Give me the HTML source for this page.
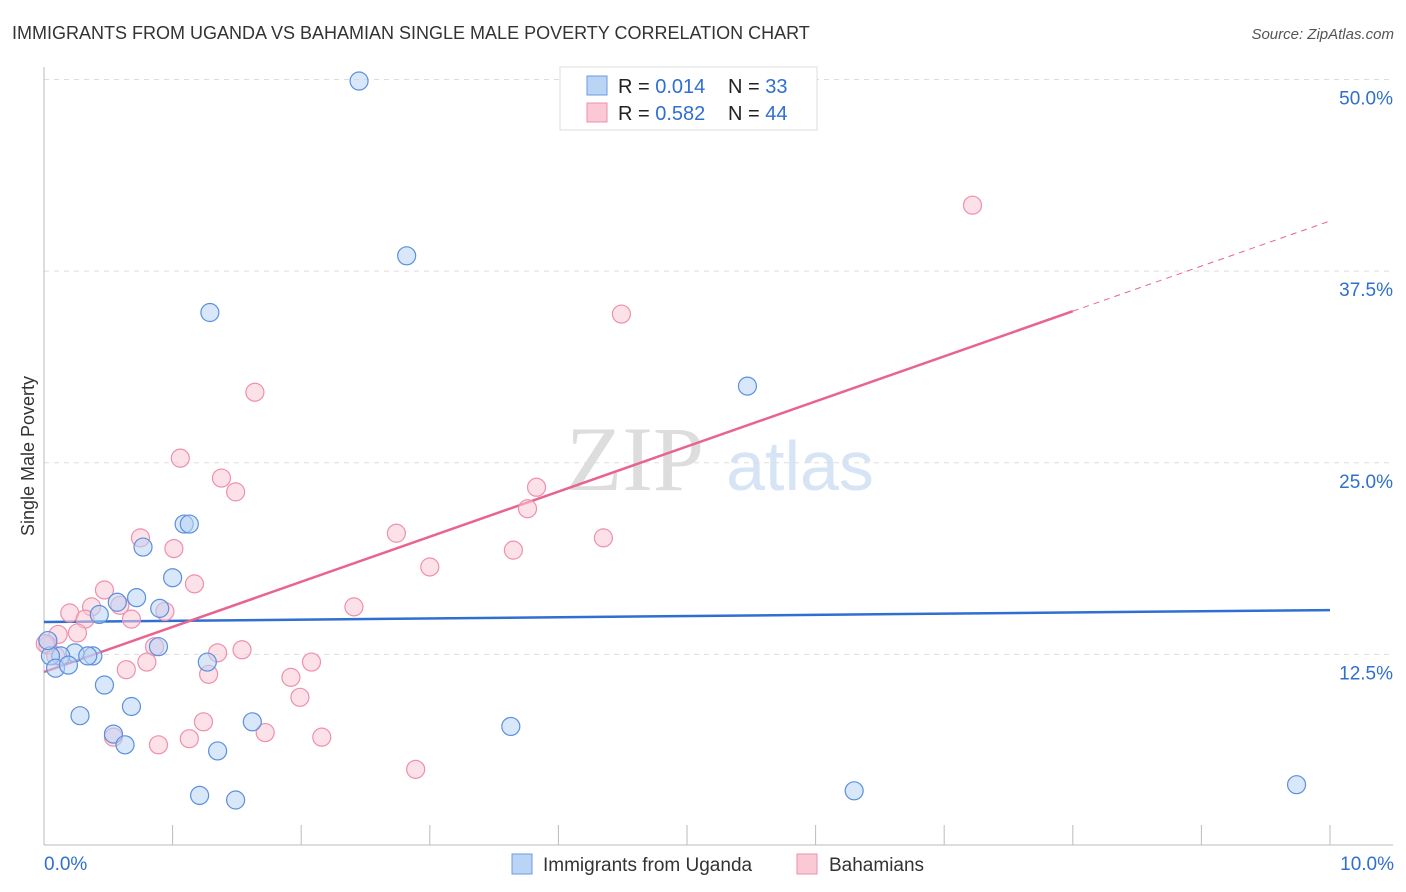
<!DOCTYPE html>
<html><head><meta charset="utf-8">
<style>
body{margin:0;background:#fff;font-family:"Liberation Sans",sans-serif;}
#wrap{position:relative;width:1406px;height:892px;}
svg{position:absolute;left:0;top:0;}
</style></head>
<body>
<div id="wrap">
<svg id="chart" width="1406" height="892">
<text x="12" y="39" font-size="18" fill="#333">IMMIGRANTS FROM UGANDA VS BAHAMIAN SINGLE MALE POVERTY CORRELATION CHART</text>
<text x="1394" y="39" font-size="15" fill="#555" font-style="italic" text-anchor="end">Source: ZipAtlas.com</text>
<text x="34" y="456" font-size="18" fill="#333" text-anchor="middle" transform="rotate(-90 34 456)">Single Male Poverty</text>
<g>
<text x="635" y="490" font-size="92" fill="#ddd" font-family="Liberation Serif,serif" text-anchor="middle">ZIP</text>
<text x="800" y="490" font-size="70" fill="#d6e4f5" text-anchor="middle">atlas</text>
</g>
<g id="grid"></g>
<g id="axes"></g>
<g id="lines"></g>
<g id="pts"></g>
<g>
<rect x="560" y="67" width="257" height="63" fill="#fff" stroke="#ddd"/>
<rect x="587" y="76" width="20" height="19" fill="#b9d4f5" stroke="#6a9de0"/>
<rect x="587" y="103" width="20" height="19" fill="#fbc8d6" stroke="#ee90ab"/>
<text x="618" y="93" font-size="20" fill="#222">R = <tspan fill="#2f6fd0">0.014</tspan></text>
<text x="728" y="93" font-size="20" fill="#222">N = <tspan fill="#2f6fd0"> 33</tspan></text>
<text x="618" y="120" font-size="20" fill="#222">R = <tspan fill="#2f6fd0">0.582</tspan></text>
<text x="728" y="120" font-size="20" fill="#222">N = <tspan fill="#2f6fd0">44</tspan></text>
</g>
<g>
<rect x="512" y="854" width="20" height="20" fill="#b9d4f5" stroke="#6a9de0"/>
<text x="543" y="871" font-size="19" fill="#333">Immigrants from Uganda</text>
<rect x="797" y="854" width="20" height="20" fill="#fbc8d6" stroke="#ee90ab"/>
<text x="829" y="871" font-size="19" fill="#333">Bahamians</text>
</g>
<text x="44" y="870" font-size="19" fill="#2f6fd0">0.0%</text>
<text x="1394" y="870" font-size="19" fill="#2f6fd0" text-anchor="end">10.0%</text>
</svg>
</div>
<script>
const yTicks=[12.5,25,37.5,50];
const yTickLabels=["12.5%","25.0%","37.5%","50.0%"];
const blueX=[2.45,2.82,1.29,5.47,1.09,1.13,0.77,1.0,0.72,0.57,0.43,0.9,0.89,0.24,0.13,0.38,0.34,0.05,0.09,0.19,1.27,0.47,0.68,0.28,1.62,3.63,0.54,0.63,1.35,1.21,1.49,6.3,9.74,0.03];
const blueY=[49.9,38.5,34.8,30.0,21.0,21.0,19.5,17.5,16.2,15.9,15.1,15.5,13.0,12.6,12.4,12.4,12.4,12.4,11.6,11.8,12.0,10.5,9.1,8.5,8.1,7.8,7.3,6.6,6.2,3.3,3.0,3.6,4.0,13.4];
const pinkX=[7.22,4.49,1.64,1.06,1.38,1.49,3.83,3.76,2.74,0.75,4.35,1.01,3.65,3.0,1.17,0.47,0.59,0.37,0.2,0.94,2.41,0.32,0.68,0.26,0.11,0.86,2.08,1.54,1.35,0.03,0.8,0.64,1.28,1.92,1.99,1.24,1.13,1.72,2.16,0.89,0.54,2.89,0.09,0.01];
const pinkY=[41.8,34.7,29.6,25.3,24.0,23.1,23.4,22.0,20.4,20.1,20.1,19.4,19.3,18.2,17.1,16.7,15.7,15.6,15.2,15.3,15.6,14.8,14.8,13.9,13.8,13.0,12.0,12.8,12.6,13.1,12.0,11.5,11.2,11.0,9.7,8.1,7.0,7.4,7.1,6.6,7.1,5.0,12.4,13.2];
const blueTrend=[14.61,15.39];
const pinkTrend=[11.35,40.77];
const pinkSolidEnd=8.0;
const X=v=>44+v*128.6, Y=v=>846-v*15.33;
const NS="http://www.w3.org/2000/svg";
function mk(p,t,a){const e=document.createElementNS(NS,t);for(const k in a)e.setAttribute(k,a[k]);document.getElementById(p).appendChild(e);return e;}
yTicks.forEach((t,i)=>{
 const l=mk('grid','line',{x1:44,x2:1393,y1:Y(t),y2:Y(t),stroke:'#ddd','stroke-dasharray':'5,5'});
 
 
 const tx=mk('grid','text',{x:1393,y:Y(t)+25,'font-size':19,fill:'#2f6fd0','text-anchor':'end'});
 tx.textContent=yTickLabels[i];
 
 
});
const ax=mk('axes','line',{x1:44,x2:44,y1:67,y2:845,stroke:'#bbb'});


const bx=mk('axes','line',{x1:44,x2:1393,y1:845,y2:845,stroke:'#bbb'});


for(let i=1;i<=10;i++){
 const t=mk('axes','line',{x1:X(i),x2:X(i),y1:825,y2:845,stroke:'#bbb'});
 
 
}
function pts(xs,ys,fill,stroke,name){
 xs.forEach((x,i)=>{
  const c=mk('pts','circle',{cx:X(x),cy:Y(ys[i]),r:9,fill:fill,'fill-opacity':0.55,stroke:stroke,'stroke-width':1.2});
  
  
 });
}
pts(pinkX,pinkY,'#fbc8d6','#ee90ab','bahamians-point');
pts(blueX,blueY,'#b9d4f5','#5b90dc','uganda-point');
const bl=mk('lines','line',{x1:X(0),x2:X(10),y1:Y(blueTrend[0]),y2:Y(blueTrend[1]),stroke:'#2f6fd0','stroke-width':2.5});


const pAt=v=>pinkTrend[0]+(pinkTrend[1]-pinkTrend[0])*v/10;
const pl=mk('lines','line',{x1:X(0),x2:X(pinkSolidEnd),y1:Y(pAt(0)),y2:Y(pAt(pinkSolidEnd)),stroke:'#e8648f','stroke-width':2.5});


const pd=mk('lines','line',{x1:X(pinkSolidEnd),x2:X(10),y1:Y(pAt(pinkSolidEnd)),y2:Y(pAt(10)),stroke:'#e8648f','stroke-width':1,'stroke-dasharray':'6,5'});


</script>
</body></html>
